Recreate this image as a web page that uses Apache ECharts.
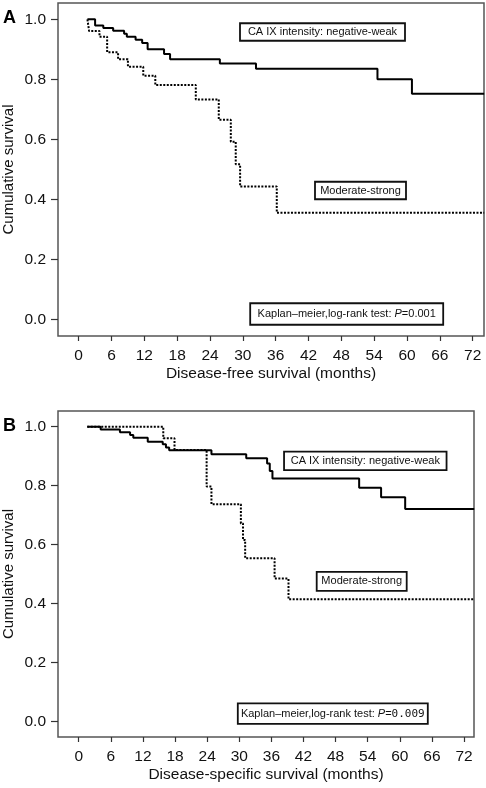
<!DOCTYPE html>
<html><head><meta charset="utf-8">
<script src="https://cdn.jsdelivr.net/npm/echarts@6/dist/echarts.min.js"></script>
<style>html,body{margin:0;padding:0;background:#fff}#c{width:486px;height:788px}</style>
</head><body><div id="c"></div>
<script>
// ---- data ----
const xTicks = [0, 6, 12, 18, 24, 30, 36, 42, 48, 54, 60, 66, 72];
const yTicks = [0, 0.2, 0.4, 0.6, 0.8, 1.0];

// Panel A: disease-free survival
const aWeakTime = [1.6, 3.0, 4.5, 6.3, 8.3, 8.8, 10.4, 11.6, 12.6, 15.6, 16.7, 25.8, 32.4, 54.6, 60.9, 74.1];
const aWeakSurv = [1.0, 0.979, 0.971, 0.962, 0.952, 0.942, 0.932, 0.921, 0.900, 0.884, 0.867, 0.853, 0.835, 0.800, 0.752, 0.752];
const aModTime = [1.6, 1.9, 3.8, 5.2, 7.2, 9.0, 11.8, 14.0, 21.4, 25.6, 27.8, 28.7, 29.5, 36.2, 74.1];
const aModSurv = [1.0, 0.961, 0.942, 0.890, 0.867, 0.842, 0.812, 0.781, 0.733, 0.665, 0.592, 0.517, 0.443, 0.355, 0.355];

// Panel B: disease-specific survival
const bWeakTime = [1.6, 4.1, 7.7, 9.6, 10.2, 12.9, 15.7, 16.3, 16.9, 24.8, 31.3, 35.2, 35.7, 36.2, 52.4, 56.5, 61.0, 73.9];
const bWeakSurv = [1.0, 0.990, 0.981, 0.972, 0.962, 0.949, 0.940, 0.929, 0.920, 0.906, 0.893, 0.875, 0.850, 0.824, 0.793, 0.761, 0.721, 0.721];
const bModTime = [1.6, 15.8, 17.9, 23.9, 24.8, 30.3, 30.7, 31.1, 36.6, 39.2, 73.9];
const bModSurv = [1.0, 0.961, 0.921, 0.797, 0.737, 0.672, 0.616, 0.554, 0.485, 0.415, 0.415];

const xNameA = 'Disease-free survival (months)';
const xNameB = 'Disease-specific survival (months)';
const yName = 'Cumulative survival';

// ---- layout ----
const FONT = 'Liberation Sans, Arial, Helvetica, sans-serif';
const frames = [
  {left: 58, top: 3, width: 426, height: 333, xmin: -3.78, xmax: 74.07, ymin: -0.0557, ymax: 1.0543},
  {left: 58, top: 411, width: 416, height: 326, xmin: -3.87, xmax: 73.86, ymin: -0.052, ymax: 1.053}
];

function pairs(t, s) { return t.map((v, i) => [v, s[i]]); }

const grids = frames.map(f => ({left: f.left, top: f.top, width: f.width, height: f.height,
  show: true, borderColor: '#555', borderWidth: 1.5, backgroundColor: 'transparent',
  containLabel: false, outerBoundsMode: 'none'}));

const xAxes = frames.map((f, i) => ({
  type: 'value', gridIndex: i, min: f.xmin, max: f.xmax, position: 'bottom',
  name: i === 0 ? xNameA : xNameB, nameLocation: 'middle', nameGap: 30,
  nameTextStyle: {fontFamily: FONT, fontSize: 15.5, color: '#111'},
  axisLine: {show: false, onZero: false}, splitLine: {show: false},
  axisTick: {show: true, inside: false, length: 5, customValues: xTicks, lineStyle: {color: '#333', width: 1.2}},
  axisLabel: {show: true, margin: 12, customValues: xTicks, fontFamily: FONT, fontSize: 15.5, color: '#111'}
}));

const yAxes = frames.map((f, i) => ({
  type: 'value', gridIndex: i, min: f.ymin, max: f.ymax, position: 'left',
  name: yName, nameLocation: 'middle', nameGap: 42, nameMoveOverlap: false,
  nameTextStyle: {fontFamily: FONT, fontSize: 15, color: '#111'},
  axisLine: {show: false, onZero: false}, splitLine: {show: false},
  axisTick: {show: true, inside: false, length: 7, customValues: yTicks, lineStyle: {color: '#333', width: 1.2}},
  axisLabel: {show: true, margin: 12, customValues: yTicks, fontFamily: FONT, fontSize: 15.5, color: '#111',
    formatter: v => v.toFixed(1)}
}));

const solid = {color: '#000', width: 2, type: 'solid'};
const dotted = {color: '#000', width: 2, type: [2, 1.5]};
function km(name, t, s, gi, ls) {
  return {type: 'line', name, xAxisIndex: gi, yAxisIndex: gi, step: 'end', showSymbol: false,
    symbol: 'none', clip: false, animation: false, lineStyle: ls, data: pairs(t, s), z: 3};
}

function box(cx, cy, w, h, text, rich) {
  return [
    {type: 'rect', shape: {x: cx - w / 2, y: cy - h / 2, width: w, height: h},
     style: {fill: '#fff', stroke: '#111', lineWidth: 1.8}, z: 10},
    {type: 'text', x: cx, y: cy, z: 11,
     style: {text, rich: rich || {}, fill: '#111', font: '11px ' + FONT, align: 'center', verticalAlign: 'middle'}}
  ];
}

const richP = {
  i: {fontStyle: 'italic', fontSize: 11, fontFamily: FONT, fill: '#111'},
  m: {fontFamily: 'DejaVu Sans Mono, Liberation Mono, monospace', fontSize: 11, fill: '#111'}
};

const graphic = [
  {type: 'text', x: 3, y: 9, style: {text: 'A', font: 'bold 18px ' + FONT, fill: '#000'}},
  {type: 'text', x: 3, y: 417, style: {text: 'B', font: 'bold 18px ' + FONT, fill: '#000'}},
  ...box(322.5, 32, 165, 17.5, 'CA IX intensity: negative-weak'),
  ...box(360.5, 190.5, 91, 17.5, 'Moderate-strong'),
  ...box(346.7, 314, 193, 21.5, 'Kaplan\u2013meier,log-rank test: {i|P}=0.001', richP),
  ...box(365.3, 460.8, 162.5, 18.5, 'CA IX intensity: negative-weak'),
  ...box(361.7, 581.3, 90, 19, 'Moderate-strong'),
  ...box(332.8, 713.7, 190, 20.5, 'Kaplan\u2013meier,log-rank test: {i|P}={m|0.009}', richP)
];

const chart = echarts.init(document.getElementById('c'), null, {renderer: 'canvas'});
chart.setOption({
  animation: false,
  backgroundColor: '#fff',
  grid: grids, xAxis: xAxes, yAxis: yAxes,
  series: [
    km('A negative-weak', aWeakTime, aWeakSurv, 0, solid),
    km('A moderate-strong', aModTime, aModSurv, 0, dotted),
    km('B negative-weak', bWeakTime, bWeakSurv, 1, solid),
    km('B moderate-strong', bModTime, bModSurv, 1, dotted)
  ],
  graphic
});
</script></body></html>
